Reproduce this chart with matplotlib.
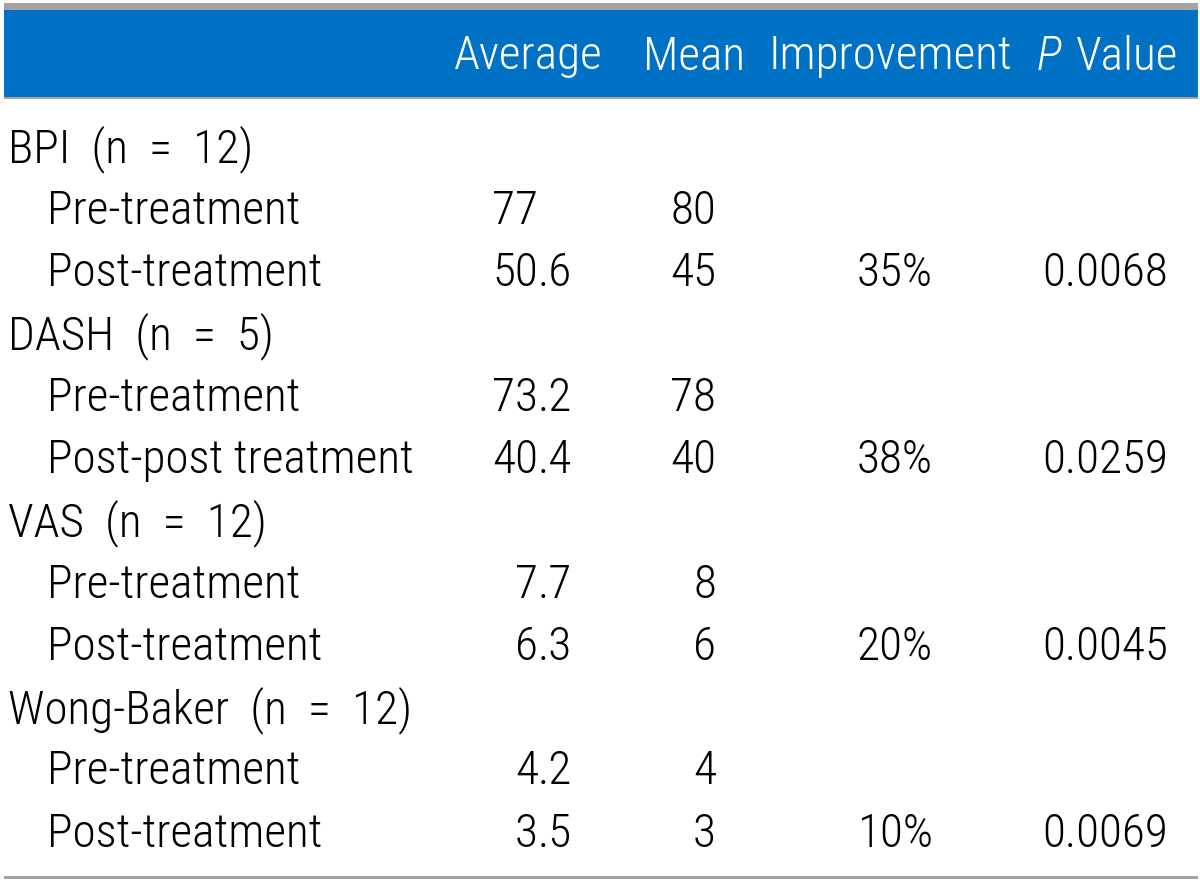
import matplotlib
matplotlib.use('Agg')
import matplotlib.pyplot as plt
from matplotlib.patches import Rectangle

# table contents
columns = ['Average', 'Mean', 'Improvement', 'Value']
groups = ['BPI  (n  =  12)', 'DASH  (n  =  5)', 'VAS  (n  =  12)', 'Wong-Baker  (n  =  12)']
sub_labels = [['Pre-treatment', 'Post-treatment'],
              ['Pre-treatment', 'Post-post treatment'],
              ['Pre-treatment', 'Post-treatment'],
              ['Pre-treatment', 'Post-treatment']]
average = [['77', '50.6'], ['73.2', '40.4'], ['7.7', '6.3'], ['4.2', '3.5']]
mean = [['80', '45'], ['78', '40'], ['8', '6'], ['4', '3']]
improvement = ['35%', '38%', '20%', '10%']
p_values = ['0.0068', '0.0259', '0.0045', '0.0069']

plt.rcParams['font.family'] = ['Roboto Condensed', 'DejaVu Sans']
plt.rcParams['font.weight'] = 'light'
fs = 34

fig = plt.figure(figsize=(12, 8.84), dpi=100)
ax = fig.add_axes([0, 0, 1, 1])
ax.set_xlim(0, 1200)
ax.set_ylim(884, 0)
ax.axis('off')

# header band and rules
ax.add_patch(Rectangle((4, 3), 1194, 7, color='#a3a3a3', lw=0))
ax.add_patch(Rectangle((4, 10), 1194, 88, color='#0072c6', lw=0))
ax.add_patch(Rectangle((4, 97), 1194, 2, color='#a3a3a3', lw=0))
ax.add_patch(Rectangle((4, 876), 1194, 3, color='#a3a3a3', lw=0))

header_y = 52
header_right = [603, 745, 1012, 1178]
for name, xr in zip(columns, header_right):
    ax.text(xr, header_y, name, color='white', fontsize=fs, ha='right', va='center_baseline')
ax.text(1037, header_y, 'P', color='white', fontsize=fs, ha='left', va='center_baseline', style='italic')

row0 = 144
step = 62.3
row = 0
for g in range(len(groups)):
    y = row0 + step * row
    ax.text(8, y, groups[g], fontsize=fs, ha='left', va='center_baseline')
    row += 1
    for k in range(2):
        y = row0 + step * row
        ax.text(47, y, sub_labels[g][k], fontsize=fs, ha='left', va='center_baseline')
        # decimal-aligned averages
        whole, _, frac = average[g][k].partition('.')
        ax.text(538, y, whole, fontsize=fs, ha='right', va='center_baseline')
        if frac:
            ax.text(538, y, '.' + frac, fontsize=fs, ha='left', va='center_baseline')
        ax.text(716, y, mean[g][k], fontsize=fs, ha='right', va='center_baseline')
        if k == 1:
            ax.text(933, y, improvement[g], fontsize=fs, ha='right', va='center_baseline')
            ax.text(1168, y, p_values[g], fontsize=fs, ha='right', va='center_baseline')
        row += 1

fig.savefig('out.png', dpi=100, facecolor='white')
